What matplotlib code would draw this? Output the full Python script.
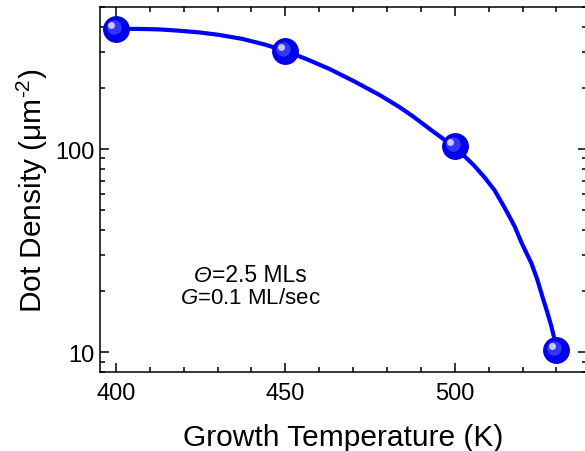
import matplotlib
matplotlib.use('Agg')
import matplotlib.pyplot as plt
import matplotlib.transforms as mtransforms

plt.rcParams['font.family'] = ['Liberation Sans', 'DejaVu Sans']
plt.rcParams['mathtext.fontset'] = 'custom'
plt.rcParams['mathtext.rm'] = 'Liberation Sans'
plt.rcParams['mathtext.it'] = 'Liberation Sans:italic'

# measured points
temp = [400, 450, 500, 530]
density = [390, 304, 103.5, 10.3]

# fitted curve
fit_temp = [400.0, 406.9, 412.8, 418.7, 424.6, 430.5, 437.3, 443.8, 450.0,
            456.5, 463.0, 470.4, 477.8, 483.6, 487.5, 494.0, 499.5, 502.8,
            505.7, 508.7, 511.7, 514.6, 517.6, 519.9, 522.6, 524.3, 525.8,
            527.3, 528.5, 529.4, 530.0]
fit_density = [390.0, 390.0, 387.9, 382.2, 374.9, 364.4, 348.3, 327.2, 304.0,
               276.0, 247.8, 215.0, 184.5, 161.1, 145.4, 120.6, 103.5, 92.4,
               82.9, 72.8, 62.8, 51.8, 41.8, 34.0, 27.4, 22.9, 18.9,
               15.7, 13.4, 11.6, 10.3]

W, H = 585, 452
fig = plt.figure(figsize=(W / 100, H / 100), dpi=100)
ax = fig.add_axes([100 / W, 1 - 373 / H, 487 / W, 365 / H])

ax.plot(fit_temp, fit_density, color='#0000ff', lw=3, solid_joinstyle='round',
        solid_capstyle='round', zorder=2)

# sphere-like markers: body + shading + highlight
ax.plot(temp, density, 'o', ms=18.5, color='#0000f0', mec='#0000d0', mew=0.8, zorder=3)
sh1 = ax.transData + mtransforms.ScaledTranslation(-1.5 / 72, 1.5 / 72, fig.dpi_scale_trans)
ax.plot(temp, density, 'o', ms=10.5, color='#3434ff', mew=0, zorder=4, transform=sh1)
sh2 = ax.transData + mtransforms.ScaledTranslation(-3.5 / 72, 3 / 72, fig.dpi_scale_trans)
ax.plot(temp, density, 'o', ms=5, color='#c8c8ff', mew=0, zorder=5, transform=sh2)

ax.set_yscale('log')
ax.set_xlim(395.3, 539)
ax.set_ylim(8, 500)
ax.set_xticks([400, 450, 500])
ax.set_xticks(range(400, 540, 10), minor=True)
ax.set_yticks([10, 100])
ax.set_yticklabels(['10', '100'])

for s in ax.spines.values():
    s.set_linewidth(1.1)
ax.tick_params(which='both', direction='in', top=True, right=True, width=1.1,
               labelsize=17)
ax.tick_params(which='major', length=6.5)
ax.tick_params(which='minor', length=3.5)
ax.tick_params(axis='x', pad=7)
ax.tick_params(axis='y', pad=4)

ax.set_xlabel('Growth Temperature (K)', fontsize=21.5, labelpad=14)
ax.set_ylabel(r'Dot Density ($\mathrm{\mu}$m$^{\text{-}2}$)', fontsize=21.5, labelpad=4)

# growth conditions
tr = mtransforms.blended_transform_factory(ax.transData, ax.transAxes)
ax.text(428.2, 0.268, '\u0398', transform=tr, style='italic',
        ha='right', va='center', fontsize=16.5)
ax.text(428.4, 0.268, '=2.5 MLs', transform=tr,
        ha='left', va='center', fontsize=16.5)
ax.text(439.6, 0.203, r'$\mathit{G}$=0.1 ML/sec', transform=tr,
        ha='center', va='center', fontsize=16)

fig.savefig('out.png', dpi=100)
